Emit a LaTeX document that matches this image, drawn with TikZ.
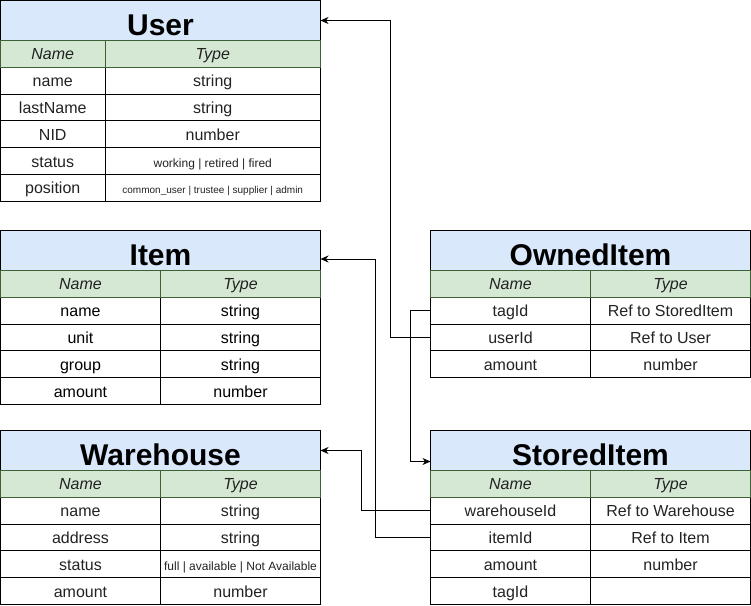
\documentclass[tikz,border=0pt]{standalone}
\usepackage{fontspec}
\setmainfont{Liberation Sans}
\usetikzlibrary{arrows.meta}
\definecolor{titleblue}{HTML}{DAE8FC}
\definecolor{headfill}{HTML}{D5E8D4}
\definecolor{headline}{HTML}{3F5F35}
\definecolor{txt}{HTML}{222222}
\newcommand\fsz[1]{\fontsize{#1}{#1}\selectfont}
\begin{document}
\begin{tikzpicture}[x=1pt,y=-1pt,
  box/.style={draw=black, line width=1pt, inner sep=0pt, outer sep=0pt, anchor=north west, text=txt, text height=12pt, text depth=0pt},
  titlecell/.style={box, fill=titleblue, minimum height=40pt, font=\bfseries\fsz{30}, text=black, text height=29pt, text depth=0pt},
  headcell/.style={box, draw=headline, fill=headfill, minimum height=26.8pt, font=\itshape\fsz{16}},
  rowcell/.style={box, minimum height=26.8pt, font=\fsz{16}},
  smalltxt/.style={font=\fsz{12}},
  tinytxt/.style={font=\fsz{10}},
  link/.style={draw=black, line width=1pt, -{Stealth[length=8pt,width=7pt,inset=2.5pt]}},
]
\useasboundingbox (0,0) rectangle (751,605);

% ---------- User ----------
\node[titlecell, minimum width=320pt] (uTitle) at (0.5,0.5) {User};
\node[rowcell, minimum width=104.5pt] (uN1) at (0.5,67.3) {name};
\node[rowcell, minimum width=215.5pt] (uT1) at (105,67.3) {string};
\node[rowcell, minimum width=104.5pt] (uN2) at (0.5,94.1) {lastName};
\node[rowcell, minimum width=215.5pt] (uT2) at (105,94.1) {string};
\node[rowcell, minimum width=104.5pt] (uN3) at (0.5,120.9) {NID};
\node[rowcell, minimum width=215.5pt] (uT3) at (105,120.9) {number};
\node[rowcell, minimum width=104.5pt] (uN4) at (0.5,147.7) {status};
\node[rowcell, smalltxt, minimum width=215.5pt] (uT4) at (105,147.7) {working | retired | fired};
\node[rowcell, minimum width=104.5pt] (uN5) at (0.5,174.5) {position};
\node[rowcell, tinytxt, minimum width=215.5pt] (uT5) at (105,174.5) {common\_user | trustee | supplier | admin};
\node[headcell, minimum width=104.5pt] (uHN) at (0.5,40.5) {Name};
\node[headcell, minimum width=215.5pt] (uHT) at (105,40.5) {Type};

% ---------- Item ----------
\node[titlecell, minimum width=320pt] (iTitle) at (0.5,230.5) {Item};
\node[rowcell, text=black, minimum width=160pt] (iN1) at (0.5,297.3) {name};
\node[rowcell, text=black, minimum width=160pt] (iT1) at (160.5,297.3) {string};
\node[rowcell, text=black, minimum width=160pt] (iN2) at (0.5,324.1) {unit};
\node[rowcell, text=black, minimum width=160pt] (iT2) at (160.5,324.1) {string};
\node[rowcell, text=black, minimum width=160pt] (iN3) at (0.5,350.9) {group};
\node[rowcell, text=black, minimum width=160pt] (iT3) at (160.5,350.9) {string};
\node[rowcell, text=black, minimum width=160pt] (iN4) at (0.5,377.7) {amount};
\node[rowcell, text=black, minimum width=160pt] (iT4) at (160.5,377.7) {number};
\node[headcell, minimum width=160pt] (iHN) at (0.5,270.5) {Name};
\node[headcell, minimum width=160pt] (iHT) at (160.5,270.5) {Type};

% ---------- Warehouse ----------
\node[titlecell, minimum width=320pt] (wTitle) at (0.5,430.5) {Warehouse};
\node[rowcell, minimum width=160pt] (wN1) at (0.5,497.3) {name};
\node[rowcell, minimum width=160pt] (wT1) at (160.5,497.3) {string};
\node[rowcell, minimum width=160pt] (wN2) at (0.5,524.1) {address};
\node[rowcell, minimum width=160pt] (wT2) at (160.5,524.1) {string};
\node[rowcell, minimum width=160pt] (wN3) at (0.5,550.9) {status};
\node[rowcell, smalltxt, minimum width=160pt] (wT3) at (160.5,550.9) {full | available | Not Available};
\node[rowcell, minimum width=160pt] (wN4) at (0.5,577.7) {amount};
\node[rowcell, minimum width=160pt] (wT4) at (160.5,577.7) {number};
\node[headcell, minimum width=160pt] (wHN) at (0.5,470.5) {Name};
\node[headcell, minimum width=160pt] (wHT) at (160.5,470.5) {Type};

% ---------- OwnedItem ----------
\node[titlecell, minimum width=320pt] (oTitle) at (430.5,230.5) {OwnedItem};
\node[rowcell, minimum width=160pt] (oTagId) at (430.5,297.3) {tagId};
\node[rowcell, minimum width=160pt] (oT1) at (590.5,297.3) {Ref to StoredItem};
\node[rowcell, minimum width=160pt] (oUserId) at (430.5,324.1) {userId};
\node[rowcell, minimum width=160pt] (oT2) at (590.5,324.1) {Ref to User};
\node[rowcell, minimum width=160pt] (oN3) at (430.5,350.9) {amount};
\node[rowcell, minimum width=160pt] (oT3) at (590.5,350.9) {number};
\node[headcell, minimum width=160pt] (oHN) at (430.5,270.5) {Name};
\node[headcell, minimum width=160pt] (oHT) at (590.5,270.5) {Type};

% ---------- StoredItem ----------
\node[titlecell, minimum width=320pt] (sTitle) at (430.5,430.5) {StoredItem};
\node[rowcell, minimum width=160pt] (sWhId) at (430.5,497.3) {warehouseId};
\node[rowcell, minimum width=160pt] (sT1) at (590.5,497.3) {Ref to Warehouse};
\node[rowcell, minimum width=160pt] (sItemId) at (430.5,524.1) {itemId};
\node[rowcell, minimum width=160pt] (sT2) at (590.5,524.1) {Ref to Item};
\node[rowcell, minimum width=160pt] (sN3) at (430.5,550.9) {amount};
\node[rowcell, minimum width=160pt] (sT3) at (590.5,550.9) {number};
\node[rowcell, minimum width=160pt] (sN4) at (430.5,577.7) {tagId};
\node[rowcell, minimum width=160pt] (sT4) at (590.5,577.7) {};
\node[headcell, minimum width=160pt] (sHN) at (430.5,470.5) {Name};
\node[headcell, minimum width=160pt] (sHT) at (590.5,470.5) {Type};

% ---------- connectors ----------
\draw[link] (oUserId.west) -- ++(-40.5,0) |- (uTitle.east);
\draw[link] (oTagId.west) -- ++(-20,0) |- ([yshift=-11pt]sTitle.west);
\draw[link] (sWhId.west) -- ++(-69.5,0) |- (wTitle.east);
\draw[link] (sItemId.west) -- ++(-55.5,0) |- ([yshift=-8.5pt]iTitle.east);
\end{tikzpicture}
\end{document}
